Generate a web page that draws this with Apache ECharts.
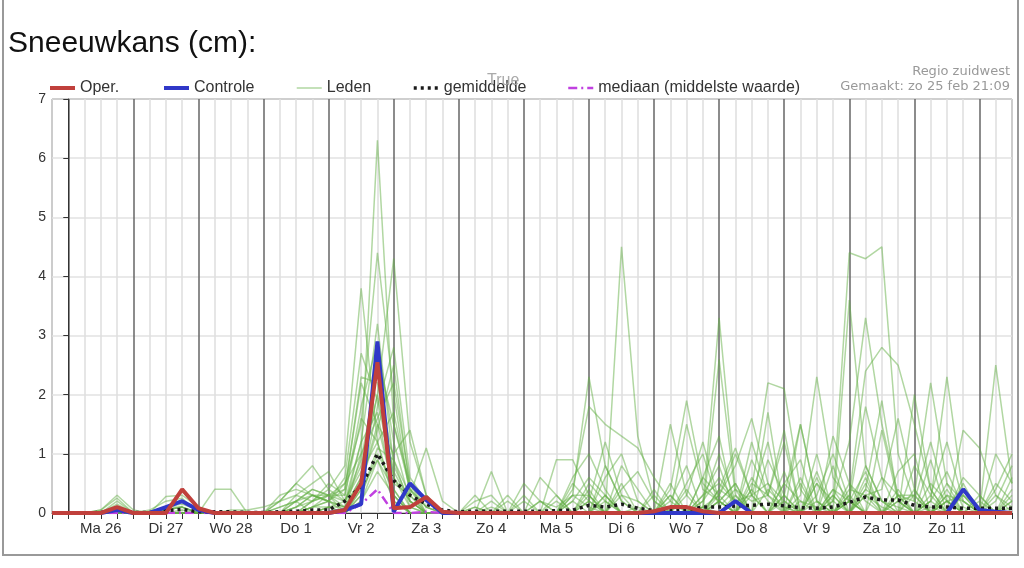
<!doctype html>
<html>
<head>
<meta charset="utf-8">
<title>Sneeuwkans (cm)</title>
<script src="https://cdn.jsdelivr.net/npm/echarts/dist/echarts.min.js"></script>
<style>
html,body{margin:0;padding:0;background:#fff;}
#chart{width:1024px;height:568px;}
</style>
</head>
<body>
<div id="chart"></div>
<script>
// dagen (label op 12u), data elke 6 uur vanaf 25 feb 18u
var dagen = ['Ma 26','Di 27','Wo 28','Do 1','Vr 2','Za 3','Zo 4','Ma 5','Di 6','Wo 7','Do 8','Vr 9','Za 10','Zo 11'];
var startUur = -6, stap = 6;

// oper. en controle
var oper = [0, 0,0,0,0.1, 0,0,0,0.4, 0.08,0,0,0, 0,0,0,0, 0,0.05,0.5,2.55, 0.08,0.1,0.27,0.02, 0,0,0,0, 0,0,0,0, 0,0,0,0, 0.03,0.1,0.1,0.03, 0,0,0,0, 0,0,0,0, 0,0,0,0, 0,0,0,0, 0,0,0];
var controle = [0, 0,0,0,0.05, 0,0,0.1,0.2, 0.05,0,0,0, 0,0,0,0, 0,0.05,0.15,2.9, 0.02,0.5,0.22,0, 0,0,0,0, 0,0,0,0, 0,0,0,0, 0,0,0,0, 0,0.2,0,0, 0,0,0,0, 0,0,0,0, 0,0,0,0.4, 0.05,0.02,0];
var gemiddelde = [0, 0,0,0.01,0.05, 0.01,0.01,0.04,0.06, 0.02,0.02,0.02,0.01, 0.01,0.02,0.03,0.05, 0.05,0.2,0.45,1.0, 0.55,0.3,0.15,0.05, 0.02,0.03,0.03,0.03, 0.03,0.03,0.04,0.05, 0.13,0.1,0.15,0.08, 0.04,0.04,0.05,0.1, 0.1,0.12,0.13,0.15, 0.12,0.09,0.08,0.1, 0.18,0.27,0.22,0.22, 0.13,0.1,0.1,0.08, 0.08,0.08,0.08];
var mediaan = [0, 0,0,0,0, 0,0,0,0, 0,0,0,0, 0,0,0,0, 0,0,0.15,0.4, 0,0,0.02,0, 0,0,0,0, 0,0,0,0, 0,0,0,0, 0,0,0,0, 0,0,0,0, 0,0,0,0, 0,0,0,0, 0,0,0,0, 0,0,0];

// leden
var lid01 = [0, 0,0,0.05,0.3, 0.05,0,0.1,0.2, 0.05,0,0,0, 0,0.1,0.2,0.4, 0.3,0.5,1.0,6.3, 1.5,0.4,0.1,0, 0,0,0.1,0, 0,0,0.2,0, 0.5,0.2,0,0, 0,0.3,0,0.2, 0.6,0.2,0,0.4, 0.1,0,0.5,0.2, 0,0.3,0.1,0, 0.4,0,0.2,0, 0,0.3,0.1];
var lid02 = [0, 0,0,0.05,0.25, 0,0,0.05,0.1, 0,0,0,0, 0,0,0.1,0.3, 0.2,0.5,1.5,4.4, 2.0,0.3,0,0, 0,0,0,0.2, 0,0,0,0.4, 1.8,1.5,1.3,1.1, 0.6,0.2,0,0, 0.3,0.8,1.6,0.5, 0.2,0,0.3,1.0, 0.2,0,0.6,0.3, 0,0.5,0.2,0, 0.2,0,0.6];
var lid03 = [0, 0,0,0,0.2, 0,0,0.28,0.3, 0.1,0,0,0, 0,0.2,0.5,0.8, 0.4,0.8,3.8,1.2, 0.3,0,0,0, 0,0.1,0,0, 0,0.2,0.1,0.3, 2.3,0.8,0.2,0, 0,0.4,1.9,0.5, 0.2,0,0.4,2.2, 2.1,0.4,0,0.3, 0,0.8,0.2,0, 0,0.2,0,0.5, 0,0,0.2];
var lid04 = [0, 0,0,0,0.15, 0,0.05,0.2,0.25, 0,0,0,0, 0,0,0,0.2, 0.4,0.2,0.8,2.0, 4.3,1.2,0.3,0, 0,0,0,0, 0,0,0,0.3, 0.1,0,4.5,1.3, 0.2,0,0,0.3, 0.5,0.2,0,0, 0.3,1.5,0.2,0, 0.4,0.3,0,0, 0,0,0.2,0.3, 0.1,0,0];
var lid05 = [0, 0,0,0,0.1, 0,0,0.1,0.15, 0.05,0,0,0, 0,0,0.3,0.5, 0.7,0.2,1.2,3.2, 0.8,0.2,0,0, 0,0,0,0, 0,0,0.9,0.9, 0.3,0,0.5,0, 0,0,0,0.1, 3.3,0.4,0.2,0.3, 0,0.3,2.3,0.6, 0.2,0,0,0.2, 0.3,2.2,0.5,0, 0,0.4,1.0];
var lid06 = [0, 0,0,0,0.05, 0,0,0.05,0.1, 0,0,0,0, 0,0.3,0.4,0.3, 0.2,0.1,0.6,2.6, 1.5,0.5,0.1,0, 0,0.2,0.3,0, 0,0,0,0.2, 0.6,0.3,0,0, 0,1.5,0.3,0, 0.2,0,0.5,0.3, 0.1,0,0,0.2, 4.4,4.3,4.5,1.0, 0.2,0,0.4,0, 0,0,0.3];
var lid07 = [0, 0,0,0,0, 0,0,0,0.05, 0,0,0,0, 0,0,0,0.1, 0.3,0,0.4,1.8, 2.8,0.6,0.2,0, 0,0,0,0, 0,0,0,0, 0.2,1.2,0.3,0, 0,0,0.4,0, 2.6,0.3,0,0, 0.7,0,1.0,0, 0.3,2.4,2.8,2.5, 1.5,0.4,0,0, 0,0.5,0.2];
var lid08 = [0, 0,0,0,0, 0,0,0,0, 0,0,0,0, 0,0.1,0.2,0.3, 0.2,0.4,2.2,1.5, 0.4,0,0,0, 0,0,0.2,0, 0.5,0.2,0,0, 0,0.3,0,0, 0.4,0,0,0.6, 0.3,1.0,0.3,0, 0.2,0,0,0, 3.6,0.8,0.2,0.1, 0,0.2,2.3,0.3, 0,0,0];
var lid09 = [0, 0,0,0,0, 0,0,0,0, 0,0,0,0, 0,0,0.1,0.2, 0.3,0.1,0.5,1.5, 1.0,1.4,0.3,0, 0,0,0,0, 0,0,0,0, 0,0.8,0.2,0, 0,0,1.5,0.4, 0.2,0.5,0,0, 0,0.5,0,0.2, 1.2,3.3,1.5,0.3, 0.3,0,0,0.4, 0,0,0.2];
var lid10 = [0, 0,0,0,0, 0,0,0,0, 0,0,0,0, 0,0,0,0, 0.1,0,0.3,1.0, 0.5,0.3,1.1,0.2, 0,0.1,0,0, 0,0,0,0.5, 0.2,0,0,0, 0.3,0,0,0.2, 1.0,0.2,0,1.7, 0,0,0,0.4, 0,0.3,0.4,1.6, 0.4,0,0,0, 0,1.0,0.5];
var lid11 = [0, 0,0,0,0, 0,0,0,0, 0,0,0,0, 0,0,0.2,0.4, 0.3,0.2,0.9,2.4, 0.6,0.2,0,0, 0,0,0.7,0, 0.3,0,0,0.3, 0.3,0,0,0, 0,0,0,0, 0,0,1.2,0.3, 1.2,0,0.2,0, 0.3,0,0,0, 2.0,0.4,0,1.4, 1.1,0.3,0];
var lid12 = [0, 0,0,0,0, 0,0,0,0, 0,0,0.05,0.05, 0.1,0.2,0.5,0.3, 0.3,0.3,1.6,1.2, 0.2,0,0,0, 0,0,0,0, 0,0.6,0.3,0, 0,0,0.3,0.2, 0,0,0,0, 0.2,0,0,0, 0,1.5,0.2,0, 0.5,0.2,0,0.2, 0,0,0.5,0.2, 0,2.5,0.5];
var lid13 = [0, 0,0,0,0, 0,0,0,0, 0,0,0,0, 0,0,0,0, 0.1,0.1,0.6,2.0, 0.7,0.2,0,0, 0,0,0,0, 0,0,0,0, 0,0,0.8,0.4, 0,0.3,0,0, 0.4,0.2,0.3,1.2, 0,0,0.5,0, 0.2,0.7,0,0.3, 0.2,1.2,0.2,0, 0,0,0];
var lid14 = [0, 0,0,0,0, 0,0,0,0, 0,0,0,0, 0,0,0,0.1, 0.2,0.1,1.2,1.7, 0.3,0,0,0, 0,0,0,0, 0,0,0,0, 0,0.2,0,0, 0,0,0,0.1, 0.3,0,0.6,0.2, 0,0,0,0.8, 0,0.5,0,0.3, 0,0,0.3,0.2, 0,0,0.1];
var lid15 = [0, 0,0,0,0, 0,0,0,0, 0,0,0,0, 0,0,0,0, 0,0,0.2,0.9, 0.4,0,0,0, 0,0,0,0.3, 0,0,0,0, 0.2,0,0,0, 0,0,0.5,1.0, 0.1,0.4,0,0, 0.5,0.2,0,0, 0.2,0,1.4,0.2, 0,0.3,0,0, 0.3,0,0];
var lid16 = [0, 0,0,0,0, 0,0,0,0, 0,0.4,0.4,0, 0,0,0,0.1, 0.2,0,0.5,1.4, 2.5,0.4,0,0, 0,0,0,0, 0,0,0,0.2, 0,0.3,0,0.1, 0,0,0,0.3, 0.8,0,0.3,0.5, 0,0.2,0.1,0, 0,0.4,0.2,0, 0.3,0,0.2,0, 0,0,0];
var lid17 = [0, 0,0,0,0, 0,0,0,0, 0,0,0,0, 0,0,0.2,0, 0.1,0,0.3,1.1, 0.9,0.1,0,0, 0,0,0,0, 0,0,0,0, 0.3,0,0,0, 0,0,0,0, 0.2,0.5,0,0, 0,0,0,0, 0.2,0,0,0, 0,0,0,0.3, 0,0,0];
var lid18 = [0, 0,0,0,0, 0,0,0,0, 0,0,0,0, 0,0,0,0, 0,0,0.2,0.7, 0.3,0,0,0, 0,0,0,0, 0.2,0,0,0, 0,0,0,0, 0,0,0,0.1, 0,0,0,0, 0.3,0,0,0.3, 0,0,0,0, 0,0.1,0,0, 0,0,0];
var lid19 = [0, 0,0,0,0, 0,0,0,0, 0,0,0,0, 0,0,0,0.1, 0.1,0.2,0.7,1.2, 1.7,0.4,0.1,0, 0,0,0,0, 0,0,0,0, 0,0,0,0, 0,0,0,0, 0,0,0,0, 0,0,0,0, 0,0,0,0, 0,0,0,0, 0,0,0];
var lid20 = [0, 0,0,0,0, 0,0,0,0, 0,0,0,0, 0,0,0,0, 0,0,0.4,0.9, 0.2,0,0,0, 0,0,0,0, 0,0,0,0, 0,0,0,0, 0,0,0,0, 0,0,0,0, 0,0,0,0, 0,0,0,0, 0,0,0,0, 0,0,0];
var lid21 = [0, 0,0,0,0.1, 0,0,0.1,0.1, 0,0,0,0, 0,0.2,0.3,0.2, 0.5,0.3,1.8,2.9, 1.2,0.2,0,0, 0,0,0,0, 0,0.2,0,0.6, 1.0,0.4,0,0, 0,0.2,0.8,0, 0.4,1.1,0.3,0, 0.5,0.9,0,0.4, 0.2,1.8,0.6,0, 0.8,0.3,1.2,0.2, 0,0.2,0.8];
var lid22 = [0, 0,0,0,0, 0,0,0,0, 0,0,0,0, 0,0,0.1,0.3, 0.2,0.6,2.7,1.9, 0.6,0.1,0,0, 0,0.3,0,0, 0,0,0.3,0, 0,0.6,1.0,0.2, 0,0,0.3,1.2, 0.2,0,0.9,0.3, 1.4,0,0.6,0, 0,0.4,1.9,0.2, 0,0.9,0,0.6, 0.3,0,0];
var lid23 = [0, 0,0,0,0, 0,0,0.05,0.1, 0,0,0,0, 0,0,0,0.2, 0.3,0.4,2.3,2.2, 0.9,0.3,0,0, 0,0,0,0, 0,0,0,0, 0,0,0.4,0.7, 0.2,0,0,0.6, 1.3,0,0.4,0, 0,0.6,0,1.3, 0.5,0,0,0.7, 1.0,0,0.3,0, 0,0,0.4];
var lid24 = [0, 0,0,0,0, 0,0,0,0, 0,0,0,0, 0,0,0,0, 0,0,1.0,1.6, 2.2,0.5,0,0, 0,0,0,0, 0,0,0,0, 0.4,0,0,0, 0,0.5,0,0, 0,0.3,0,0.9, 0.3,0,0.7,0, 0,0.6,0,0.4, 0,0.2,0.7,0.1, 0,0,0];
var leden = [lid01,lid02,lid03,lid04,lid05,lid06,lid07,lid08,lid09,lid10,lid11,lid12,
             lid13,lid14,lid15,lid16,lid17,lid18,lid19,lid20,lid21,lid22,lid23,lid24];

function punten(arr) {
    return arr.map(function (v, i) { return [startUur + i * stap, v]; });
}

var myChart = echarts.init(document.getElementById('chart'));

var series = [];
leden.forEach(function (lid) {
    series.push({
        name: 'Leden', type: 'line', data: punten(lid), symbol: 'none', silent: true, z: 1,
        itemStyle: { color: 'rgba(100,175,70,0.5)' },
        lineStyle: { color: 'rgba(100,175,70,0.5)', width: 1.5 }
    });
});
series.push({
    name: 'mediaan (middelste waarde)', type: 'line', data: punten(mediaan), symbol: 'none', z: 2,
    itemStyle: { color: '#c040e0' },
    lineStyle: { color: '#c040e0', width: 2.5, type: [9, 4, 2, 4] }
});
series.push({
    name: 'gemiddelde', type: 'line', data: punten(gemiddelde), symbol: 'none', z: 3,
    itemStyle: { color: '#1a1a1a' },
    lineStyle: { color: '#1a1a1a', width: 3.5, type: [3, 4] }
});
series.push({
    name: 'Controle', type: 'line', data: punten(controle), symbol: 'none', z: 4,
    itemStyle: { color: '#3038c8' },
    lineStyle: { color: '#3038c8', width: 4 }
});
series.push({
    name: 'Oper.', type: 'line', data: punten(oper), symbol: 'none', z: 5,
    itemStyle: { color: '#c0403c' },
    lineStyle: { color: '#c0403c', width: 4 }
});

var legTekst = { fontSize: 16, color: '#333', fontFamily: 'Liberation Sans' };
function leg(naam, links, breedte) {
    return {
        data: [naam], left: links, top: 80, itemWidth: 25, itemHeight: 14,
        selectedMode: false, padding: 0, textStyle: legTekst,
        itemStyle: { opacity: 0 }, lineStyle: { width: breedte }
    };
}

var option = {
    animation: false,
    backgroundColor: '#fff',
    grid: { left: 52, right: 12, top: 99, bottom: 55, show: true, borderColor: '#333', borderWidth: 1, backgroundColor: 'transparent', outerBoundsMode: 'none' },
    legend: [
        leg('Oper.', 48, 4),
        leg('Controle', 162, 4),
        leg('Leden', 296, 1.5),
        leg('gemiddelde', 412, 3.5),
        leg('mediaan (middelste waarde)', 567, 2.5)
    ],
    xAxis: {
        type: 'value', min: -6, max: 348, interval: 6,
        axisLine: { show: true, lineStyle: { color: '#333', width: 1 } },
        axisTick: { show: true, length: 6, lineStyle: { color: '#333' } },
        axisLabel: {
            fontSize: 15, color: '#333', fontFamily: 'Liberation Sans', margin: 8,
            formatter: function (v) {
                if ((v - 12) % 24 === 0 && v >= 12) { return dagen[(v - 12) / 24] || ''; }
                return '';
            }
        },
        splitLine: { show: true, lineStyle: { color: ['#dedede', '#666', '#dedede', '#dedede'], width: 1.5 } }
    },
    yAxis: {
        type: 'value', min: 0, max: 7, interval: 1,
        axisLine: { show: true, lineStyle: { color: '#333' } },
        axisTick: { show: true, length: 5, lineStyle: { color: '#333' } },
        axisLabel: { fontSize: 14, color: '#333', fontFamily: 'Liberation Sans', margin: 6 },
        splitLine: { show: true, lineStyle: { color: '#e2e2e2', width: 1.5 } }
    },
    graphic: [
        { type: 'rect', shape: { x: 3, y: -4, width: 1015, height: 559 }, style: { fill: 'none', stroke: '#999', lineWidth: 2 }, z: 100 },
        { type: 'text', left: 8, top: 29, style: { text: 'Sneeuwkans (cm):', font: '30px "Liberation Sans"', fill: '#111' } },
        { type: 'text', right: 14, top: 65, style: { text: 'Regio zuidwest', font: '13px "DejaVu Sans"', fill: '#999' } },
        { type: 'text', right: 14, top: 80, style: { text: 'Gemaakt: zo 25 feb 21:09', font: '13px "DejaVu Sans"', fill: '#999' } },
        { type: 'text', left: 487, top: 73, style: { text: 'True', font: '16px "Liberation Sans"', fill: '#aaa' }, z: 50 }
    ],
    series: series
};

myChart.setOption(option);
</script>
</body>
</html>
